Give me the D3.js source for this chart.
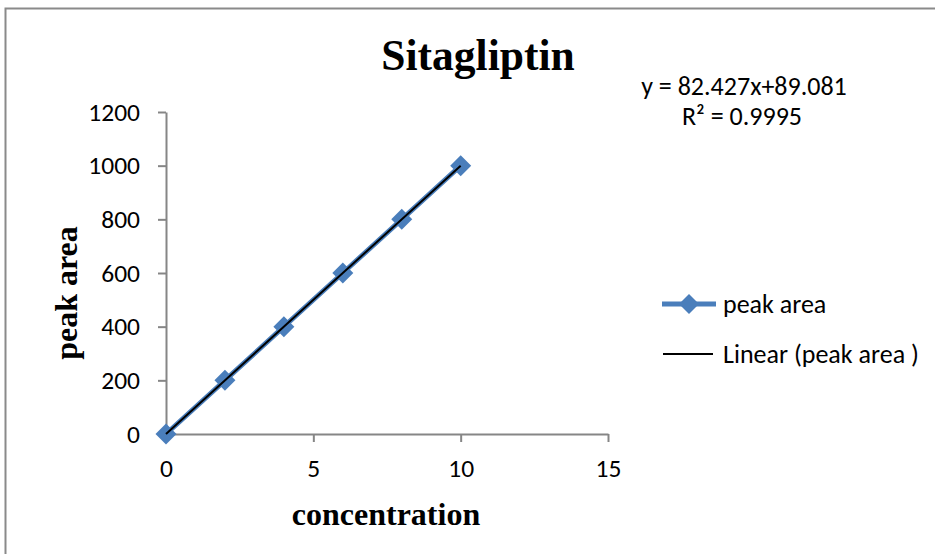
<!DOCTYPE html>
<html><head><meta charset="utf-8">
<script src="https://cdn.jsdelivr.net/npm/d3@7"></script>
<style>body{margin:0;background:#fff}svg{display:block}</style>
</head><body>
<svg id="c" width="935" height="554"></svg>
<script>
const concentration = [0, 2, 4, 6, 8, 10];
const peakArea = [0, 200, 400, 600, 800, 1000];
const xTicks = [0, 5, 10, 15];
const yTicks = [0, 200, 400, 600, 800, 1000, 1200];
const title = "Sitagliptin";
const xTitle = "concentration";
const yTitle = "peak area";
const equation = ["y = 82.427x+89.081", "R² = 0.9995"];
const legendLabels = ["peak area", "Linear (peak area )"];

const svg = d3.select("#c");
const tickFont = "Carlito, Lato, 'Liberation Sans', sans-serif";
const serif = "'Liberation Serif', 'DejaVu Serif', serif";
const axisColor = "#868686";
const blue = "#4a7ebb";

svg.append("rect").attr("x", 5.5).attr("y", 8.5).attr("width", 940).attr("height", 560)
  .attr("fill", "none").attr("stroke", "#8a8a8a").attr("stroke-width", 2);

const x = d3.scaleLinear().domain([0, 15]).range([166, 608]);
const y = d3.scaleLinear().domain([0, 1200]).range([434, 112]);

// axes
const gx = svg.append("g").attr("transform", `translate(0,${y(0)})`)
  .call(d3.axisBottom(x).tickValues(xTicks).tickFormat(d3.format("d")).tickSize(8).tickPadding(15).tickSizeOuter(0));
const gy = svg.append("g").attr("transform", `translate(${x(0)},0)`)
  .call(d3.axisLeft(y).tickValues(yTicks).tickFormat(d3.format("d")).tickSize(8).tickPadding(18).tickSizeOuter(0));
[gx, gy].forEach(g => {
  g.select(".domain").attr("stroke", axisColor).attr("stroke-width", 2);
  g.selectAll(".tick line").attr("stroke", axisColor).attr("stroke-width", 2);
  g.selectAll(".tick text").attr("fill", "#000").style("font-family", tickFont).style("font-size", "25.5px");
});
gx.selectAll(".tick text").attr("dy", "0.8em");

// series line
const data = concentration.map((c, i) => ({ x: c, y: peakArea[i] }));
svg.append("path").datum(data)
  .attr("fill", "none").attr("stroke", blue).attr("stroke-width", 5)
  .attr("d", d3.line().x(d => x(d.x)).y(d => y(d.y)));

svg.append("g").selectAll("path").data(data).join("path")
  .attr("transform", d => `translate(${x(d.x)},${y(d.y)})`)
  .attr("d", "M0,-10.5L10.5,0L0,10.5L-10.5,0Z")
  .attr("fill", blue);

// linear fit
const mx = d3.mean(data, d => d.x), my = d3.mean(data, d => d.y);
const slope = d3.sum(data, d => (d.x - mx) * (d.y - my)) / d3.sum(data, d => (d.x - mx) ** 2);
const icpt = my - slope * mx;
const x0 = d3.min(concentration), x1 = d3.max(concentration);
svg.append("line")
  .attr("x1", x(x0)).attr("y1", y(icpt + slope * x0))
  .attr("x2", x(x1)).attr("y2", y(icpt + slope * x1))
  .attr("stroke", "#000").attr("stroke-width", 2);

// titles
svg.append("text").attr("x", 478).attr("y", 70).attr("text-anchor", "middle")
  .style("font-family", serif).style("font-weight", "bold").style("font-size", "43.5px").text(title);
svg.append("text").attr("x", 386).attr("y", 525).attr("text-anchor", "middle")
  .style("font-family", serif).style("font-weight", "bold").style("font-size", "32px").text(xTitle);
svg.append("text").attr("transform", "translate(77,293) rotate(-90)").attr("text-anchor", "middle")
  .style("font-family", serif).style("font-weight", "bold").style("font-size", "32px").text(yTitle);

// equation
svg.append("text").attr("x", 744).attr("y", 95).attr("text-anchor", "middle")
  .style("font-family", tickFont).style("font-size", "26px").text(equation[0]);
svg.append("text").attr("x", 742).attr("y", 125).attr("text-anchor", "middle")
  .style("font-family", tickFont).style("font-size", "26px").text(equation[1]);

// legend
const lg = svg.append("g");
lg.append("line").attr("x1", 662).attr("x2", 716).attr("y1", 304).attr("y2", 304)
  .attr("stroke", blue).attr("stroke-width", 5);
lg.append("path").attr("transform", "translate(689,304)").attr("d", "M0,-10L10,0L0,10L-10,0Z").attr("fill", blue);
lg.append("text").attr("x", 723).attr("y", 304).attr("dy", "0.35em")
  .style("font-family", tickFont).style("font-size", "26px").text(legendLabels[0]);
lg.append("line").attr("x1", 663).attr("x2", 713).attr("y1", 354).attr("y2", 354)
  .attr("stroke", "#000").attr("stroke-width", 2);
lg.append("text").attr("x", 723).attr("y", 354).attr("dy", "0.35em")
  .style("font-family", tickFont).style("font-size", "26px").text(legendLabels[1]);
</script>
</body></html>
